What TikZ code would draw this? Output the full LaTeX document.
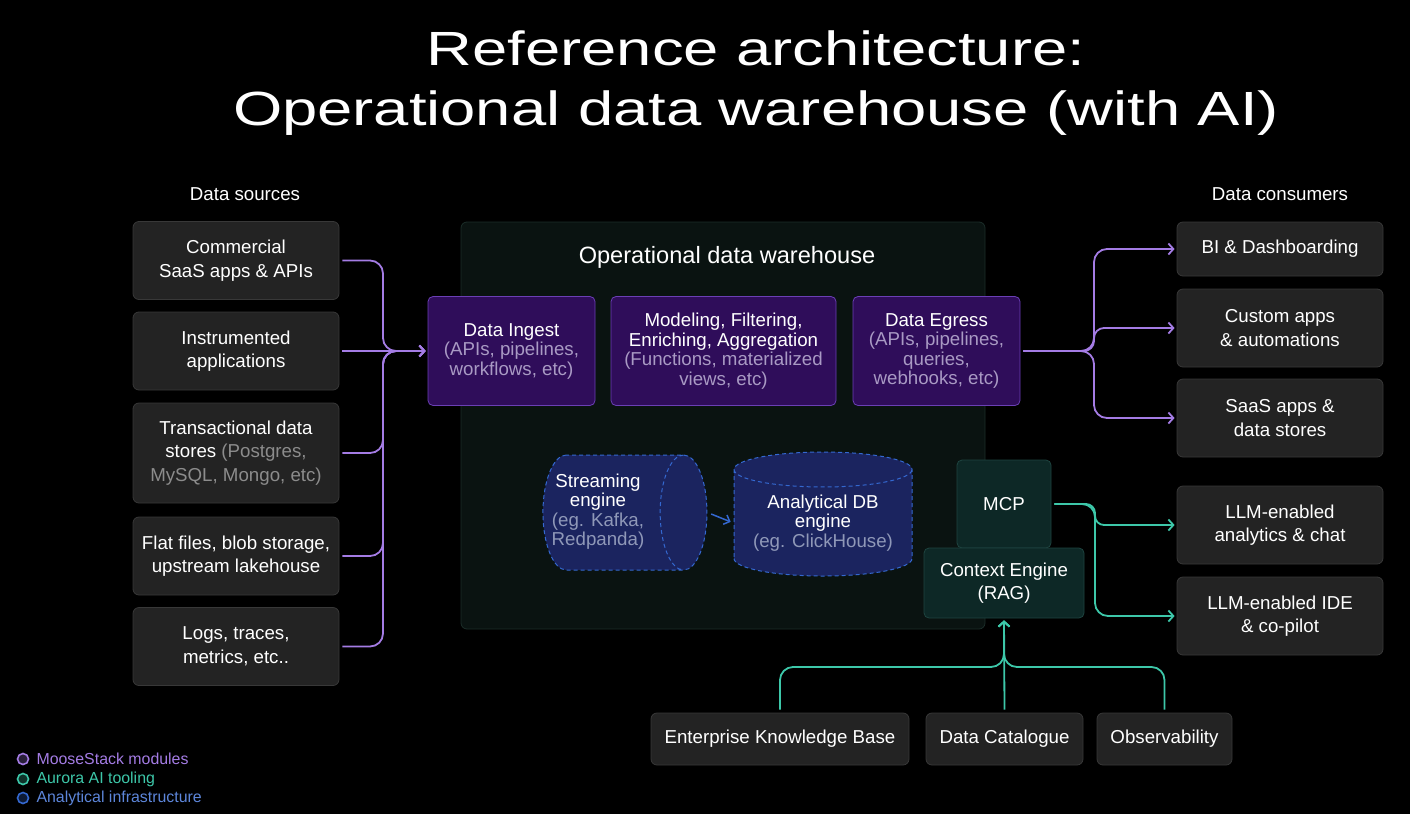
\documentclass[tikz,border=0pt]{standalone}
\usepackage{fontspec}
\setmainfont{Liberation Sans}
\newfontfamily\titlefont{Liberation Sans}[FakeStretch=1.32]
\usetikzlibrary{arrows.meta,shapes.geometric}

\definecolor{boxfill}{HTML}{232323}
\definecolor{boxline}{HTML}{383838}
\definecolor{subgray}{HTML}{8C8C8C}
\definecolor{whfill}{HTML}{0A1311}
\definecolor{whline}{HTML}{1B2D29}
\definecolor{modfill}{HTML}{2F0D5A}
\definecolor{modline}{HTML}{6B3FB5}
\definecolor{modsub}{HTML}{A99AC4}
\definecolor{moose}{HTML}{A47CE4}
\definecolor{aurora}{HTML}{3DC7A9}
\definecolor{aifill}{HTML}{0D2826}
\definecolor{ailine}{HTML}{1E4440}
\definecolor{infra}{HTML}{3468D0}
\definecolor{infrafill}{HTML}{1B245F}
\definecolor{infrasub}{HTML}{8F98B8}

\newcommand{\bodytxt}{\fontsize{18.7}{23.5}\selectfont}
\newcommand{\modtxt}{\fontsize{18.7}{19.5}\selectfont}

\tikzset{
  card/.style={draw=boxline, fill=boxfill, line width=0.8pt, rounded corners=6pt,
    minimum width=206pt, minimum height=78pt, inner sep=0pt, align=center,
    text=white, font=\bodytxt},
  module/.style={draw=modline, fill=modfill, line width=0.8pt, rounded corners=5pt,
    minimum height=109pt, inner sep=0pt, align=center, text=white, font=\modtxt},
  aibox/.style={draw=ailine, fill=aifill, line width=0.8pt, rounded corners=5pt,
    inner sep=0pt, align=center, text=white, font=\bodytxt},
  engine/.style={cylinder, draw=infra, fill=infrafill, line width=1pt,
    dash pattern=on 4pt off 3pt, inner sep=0pt, align=center, text=white, font=\modtxt},
  mooseflow/.style={draw=moose, line width=1.8pt, rounded corners=13pt},
  auroraflow/.style={draw=aurora, line width=1.8pt, rounded corners=13pt},
  flowtip/.style={-{Straight Barb[length=5pt,width=11pt]}, shorten <=3pt, shorten >=2pt},
  legdot/.style={circle, draw=#1, line width=1.6pt, minimum size=11pt, inner sep=0pt, fill=#1!25!black},
}

\begin{document}
\begin{tikzpicture}[x=1pt, y=-1pt]
    \fill[black] (0,0) rectangle (1410,814);
    \useasboundingbox (0,0) rectangle (1410,814);

    % Title
    \node[align=center, text=white, font=\titlefont\fontsize{48}{60}\selectfont] (title) at (756,83)
        {Reference architecture:\\Operational data warehouse (with AI)};

    % Data sources
    \node[text=white, font=\bodytxt] (srchead) at (245,194) {Data sources};
    \node[card] (saas) at (236,260.5) {Commercial\\SaaS apps \& APIs};
    \node[card] (instr) at (236,351) {Instrumented\\applications};
    \node[card, minimum height=100pt] (trans) at (236,453)
        {Transactional data\\stores {\color{subgray}(Postgres,}\\{\color{subgray}MySQL, Mongo, etc)}};
    \node[card] (flat) at (236,556) {Flat files, blob storage,\\upstream lakehouse};
    \node[card] (logs) at (236,646.5) {Logs, traces,\\metrics, etc..};

    % Operational data warehouse
    \node[draw=whline, fill=whfill, line width=0.8pt, rounded corners=6pt,
        minimum width=524pt, minimum height=407pt] (odw) at (723,425.5) {};
    \node[text=white, font=\fontsize{23.6}{28}\selectfont] (odwhead) at (727,257) {Operational data warehouse};
    \node[module, minimum width=167pt] (ingest) at (511.5,351)
        {Data Ingest\\{\color{modsub}(APIs, pipelines,}\\{\color{modsub}workflows, etc)}};
    \node[module, minimum width=225pt] (model) at (723.5,351)
        {Modeling, Filtering,\\Enriching, Aggregation\\{\color{modsub}(Functions, materialized}\\{\color{modsub}views, etc)}};
    \node[module, minimum width=167pt] (egress) at (936.5,351)
        {Data Egress\\{\color{modsub}(APIs, pipelines,}\\{\color{modsub}queries,}\\{\color{modsub}webhooks, etc)}};

    % Engines
    \node[engine, minimum height=164pt, minimum width=115pt, aspect=0.6] (stream) at (613,512.5)
        {\hspace*{-30pt}\begin{tabular}{@{}c@{}}Streaming\\engine\\{\color{infrasub}(eg. Kafka,}\\{\color{infrasub}Redpanda)}\end{tabular}};
    \node[engine, shape border rotate=90, minimum width=178pt, minimum height=124pt, aspect=0.25] (olap) at (823,523)
        {Analytical DB\\engine\\{\color{infrasub}(eg. ClickHouse)}};
    \draw[infra, line width=1.5pt, -{Straight Barb[length=5pt,width=10pt]}, shorten <=4pt, shorten >=3pt]
        (stream.east) -- (olap.west);

    % AI tooling
    \node[aibox, minimum width=94pt, minimum height=88pt] (mcp) at (1004,504) {MCP};
    \node[aibox, minimum width=160pt, minimum height=70pt] (ctx) at (1004,583) {Context Engine\\(RAG)};

    % Data consumers
    \node[text=white, font=\bodytxt] (dsthead) at (1280,194) {Data consumers};
    \node[card, minimum height=54pt] (bi) at (1280,249) {BI \& Dashboarding};
    \node[card] (custom) at (1280,328) {Custom apps\\\& automations};
    \node[card] (saasout) at (1280,418) {SaaS apps \&\\data stores};
    \node[card] (llmchat) at (1280,525) {LLM-enabled\\analytics \& chat};
    \node[card] (llmide) at (1280,616) {LLM-enabled IDE\\\& co-pilot};

    % Context sources
    \node[card, minimum width=258pt, minimum height=52pt] (ekb) at (780,739) {Enterprise Knowledge Base};
    \node[card, minimum width=157pt, minimum height=52pt] (catalog) at (1004.5,739) {Data Catalogue};
    \node[card, minimum width=135pt, minimum height=52pt] (obs) at (1164.5,739) {Observability};

    % Ingest flows
    \coordinate (inj) at (383,351);
    \draw[mooseflow, flowtip] (saas.east) -- (inj |- saas.east) -- (inj) -- (ingest.west);
    \draw[mooseflow, flowtip] (instr.east) -- (ingest.west);
    \foreach \src in {trans, flat, logs}
        \draw[mooseflow, flowtip] (\src.east) -- (inj |- \src.east) -- (inj) -- (ingest.west);

    % Egress flows
    \coordinate (egj) at (1094,351);
    \draw[mooseflow, flowtip] (egress.east) -- (egj) -- (egj |- bi.west) -- (bi.west);
    \draw[mooseflow, flowtip, rounded corners=10pt] (egress.east) -- (egj) -- (egj |- custom.west) -- (custom.west);
    \draw[mooseflow, flowtip] (egress.east) -- (egj) -- (egj |- saasout.west) -- (saasout.west);

    % MCP flows
    \coordinate (mcpj) at (1095,504);
    \draw[auroraflow, flowtip, rounded corners=9pt] (mcp.east) -- (mcpj) -- (mcpj |- llmchat.west) -- (llmchat.west);
    \draw[auroraflow, flowtip] (mcp.east) -- (mcpj) -- (mcpj |- llmide.west) -- (llmide.west);

    % Context flows
    \coordinate (ctxj) at (1004,667);
    \draw[auroraflow, flowtip] (ekb.north) -- (ekb.north |- ctxj) -- (ctxj) -- (ctx.south);
    \draw[auroraflow, flowtip] (catalog.north) -- (ctx.south);
    \draw[auroraflow, flowtip] (obs.north) -- (obs.north |- ctxj) -- (ctxj) -- (ctx.south);

    % Legend
    \node[legdot=moose] (dot1) at (23,759) {};
    \node[legdot=aurora] (dot2) at (23,779) {};
    \node[legdot=infra] (dot3) at (23,798) {};
    \node[anchor=west, text=moose, font=\fontsize{15.9}{18}\selectfont] (leg1) at (33,759) {MooseStack modules};
    \node[anchor=west, text=aurora, font=\fontsize{15.9}{18}\selectfont] (leg2) at (33,779) {Aurora AI tooling};
    \node[anchor=west, text=infra!80!white, font=\fontsize{15.9}{18}\selectfont] (leg3) at (33,798) {Analytical infrastructure};
\end{tikzpicture}
\end{document}
